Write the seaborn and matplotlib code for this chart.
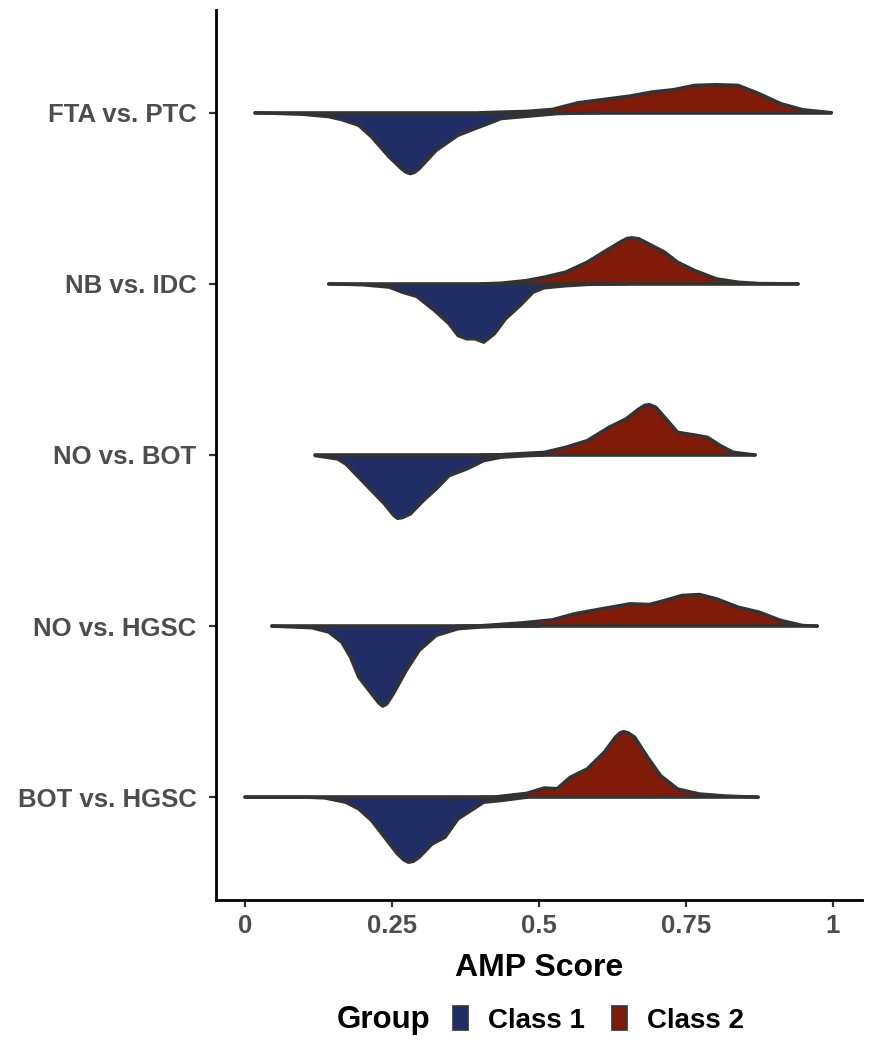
import numpy as np
import pandas as pd
import matplotlib
matplotlib.use("Agg")
import matplotlib.pyplot as plt
from matplotlib.patches import Patch
import seaborn as sns

# ---------------- data ----------------
comparisons = ["FTA vs. PTC", "NB vs. IDC", "NO vs. BOT", "NO vs. HGSC", "BOT vs. HGSC"]
groups = ["Class 1", "Class 2"]
x_ticks = [0, 0.25, 0.5, 0.75, 1]
x_tick_labels = ["0", "0.25", "0.5", "0.75", "1"]

# overall range of each comparison (baseline extent)
range_fta = [0.017, 0.998]
range_nb = [0.142, 0.941]
range_nobot = [0.119, 0.868]
range_nohgsc = [0.045, 0.974]
range_bothgsc = [0.0, 0.873]

# Class 1 density profiles (score, relative density)
c1_fta_x = [0.017, 0.098, 0.142, 0.164, 0.193, 0.215, 0.245, 0.267, 0.274, 0.281, 0.288, 0.296, 0.325, 0.362, 0.391, 0.421, 0.435, 0.479, 0.531, 0.60]
c1_fta_d = [0.0, 0.05, 0.12, 0.21, 0.38, 0.73, 1.33, 1.70, 1.79, 1.83, 1.79, 1.68, 1.13, 0.68, 0.48, 0.28, 0.18, 0.11, 0.03, 0.0]
c1_nb_x = [0.142, 0.200, 0.245, 0.267, 0.292, 0.322, 0.347, 0.362, 0.377, 0.391, 0.406, 0.424, 0.443, 0.468, 0.490, 0.509, 0.545, 0.582, 0.65]
c1_nb_d = [0.0, 0.03, 0.10, 0.25, 0.38, 0.80, 1.20, 1.55, 1.65, 1.65, 1.75, 1.50, 1.05, 0.65, 0.25, 0.12, 0.06, 0.02, 0.0]
c1_nobot_x = [0.119, 0.157, 0.171, 0.193, 0.215, 0.237, 0.252, 0.259, 0.267, 0.281, 0.303, 0.325, 0.347, 0.377, 0.406, 0.435, 0.472, 0.509]
c1_nobot_d = [0.02, 0.12, 0.27, 0.67, 1.07, 1.47, 1.80, 1.90, 1.88, 1.77, 1.37, 1.02, 0.62, 0.42, 0.17, 0.07, 0.03, 0.0]
c1_nohgsc_x = [0.045, 0.113, 0.142, 0.164, 0.179, 0.193, 0.215, 0.227, 0.234, 0.241, 0.252, 0.274, 0.296, 0.325, 0.362, 0.399, 0.435, 0.50]
c1_nohgsc_d = [0.0, 0.05, 0.18, 0.48, 0.93, 1.53, 2.03, 2.30, 2.40, 2.33, 2.03, 1.33, 0.73, 0.28, 0.08, 0.03, 0.01, 0.0]
c1_bothgsc_x = [0.0, 0.105, 0.135, 0.171, 0.193, 0.215, 0.237, 0.259, 0.270, 0.278, 0.286, 0.296, 0.318, 0.340, 0.362, 0.384, 0.406, 0.435, 0.457, 0.479]
c1_bothgsc_d = [0.0, 0.0, 0.02, 0.15, 0.35, 0.70, 1.20, 1.70, 1.88, 1.95, 1.92, 1.80, 1.40, 1.20, 0.65, 0.40, 0.15, 0.10, 0.05, 0.0]

# Class 2 density profiles
c2_fta_x = [0.40, 0.479, 0.523, 0.567, 0.611, 0.655, 0.692, 0.729, 0.765, 0.802, 0.839, 0.875, 0.912, 0.949, 0.998]
c2_fta_d = [0.0, 0.04, 0.10, 0.30, 0.40, 0.50, 0.62, 0.69, 0.82, 0.84, 0.82, 0.57, 0.27, 0.09, 0.0]
c2_nb_x = [0.40, 0.435, 0.479, 0.509, 0.545, 0.582, 0.619, 0.641, 0.650, 0.658, 0.670, 0.692, 0.714, 0.736, 0.765, 0.802, 0.839, 0.875, 0.941]
c2_nb_d = [0.0, 0.02, 0.10, 0.20, 0.35, 0.65, 1.05, 1.28, 1.36, 1.38, 1.35, 1.15, 0.95, 0.65, 0.40, 0.15, 0.05, 0.01, 0.0]
c2_nobot_x = [0.40, 0.435, 0.509, 0.545, 0.582, 0.619, 0.648, 0.670, 0.680, 0.688, 0.699, 0.714, 0.736, 0.765, 0.787, 0.809, 0.831, 0.868]
c2_nobot_d = [0.0, 0.01, 0.08, 0.23, 0.43, 0.83, 1.08, 1.38, 1.49, 1.51, 1.43, 1.13, 0.68, 0.60, 0.53, 0.28, 0.08, 0.0]
c2_nohgsc_x = [0.36, 0.399, 0.472, 0.523, 0.560, 0.597, 0.655, 0.688, 0.714, 0.743, 0.773, 0.802, 0.839, 0.875, 0.912, 0.949, 0.974]
c2_nohgsc_d = [0.0, 0.01, 0.10, 0.19, 0.37, 0.49, 0.67, 0.65, 0.77, 0.92, 0.95, 0.82, 0.57, 0.42, 0.17, 0.02, 0.0]
c2_bothgsc_x = [0.40, 0.421, 0.435, 0.479, 0.509, 0.531, 0.553, 0.582, 0.611, 0.630, 0.638, 0.644, 0.652, 0.663, 0.685, 0.707, 0.736, 0.773, 0.817, 0.873]
c2_bothgsc_d = [0.0, 0.0, 0.03, 0.12, 0.28, 0.26, 0.60, 0.85, 1.35, 1.80, 1.93, 1.97, 1.93, 1.80, 1.20, 0.65, 0.25, 0.10, 0.04, 0.0]

ranges = [range_fta, range_nb, range_nobot, range_nohgsc, range_bothgsc]
class1 = [(c1_fta_x, c1_fta_d), (c1_nb_x, c1_nb_d), (c1_nobot_x, c1_nobot_d),
          (c1_nohgsc_x, c1_nohgsc_d), (c1_bothgsc_x, c1_bothgsc_d)]
class2 = [(c2_fta_x, c2_fta_d), (c2_nb_x, c2_nb_d), (c2_nobot_x, c2_nobot_d),
          (c2_nohgsc_x, c2_nohgsc_d), (c2_bothgsc_x, c2_bothgsc_d)]

# ---------------- styling ----------------
COL1 = "#212E66"
COL2 = "#801B0A"
EDGE = "#333333"
SCALE = 0.195  # relative density -> fraction of row spacing

sns.set_theme(style="ticks")
plt.rcParams["font.family"] = ["Liberation Sans", "DejaVu Sans"]

fig = plt.figure(figsize=(8.79, 10.5), dpi=100)
ax = fig.add_axes([0.2457, 0.1429, 0.735, 0.8476])

n = len(comparisons)
rows = []
for i, name in enumerate(comparisons):
    ypos = n - i
    for g, (xs, ds), sign in ((groups[0], class1[i], -1), (groups[1], class2[i], 1)):
        for xv, dv in zip(xs, ds):
            rows.append({"comparison": name, "group": g, "score": xv,
                         "y": ypos + sign * dv * SCALE})
df = pd.DataFrame(rows)

for i, name in enumerate(comparisons):
    ypos = n - i
    for g, col in ((groups[0], COL1), (groups[1], COL2)):
        sub = df[(df.comparison == name) & (df.group == g)]
        ax.fill_between(sub["score"], ypos, sub["y"], color=col, lw=0, zorder=2)
    # baseline
    ax.plot(ranges[i], [ypos, ypos], color=EDGE, lw=2.6, solid_capstyle="round", zorder=3)

df["unit"] = df["comparison"] + "_" + df["group"]
sns.lineplot(data=df, x="score", y="y", units="unit", estimator=None, sort=False,
             color=EDGE, lw=2.4, ax=ax, zorder=4, legend=False)

ax.set_xlim(-0.05, 1.05)
ax.set_ylim(0.4, n + 0.6)
ax.set_yticks(range(n, 0, -1))
ax.set_yticklabels(comparisons)
ax.set_xticks(x_ticks)
ax.set_xticklabels(x_tick_labels)
ax.set_ylabel("")
ax.set_xlabel("AMP Score", fontsize=23, fontweight="bold", color="black", labelpad=11)

for s in ("top", "right"):
    ax.spines[s].set_visible(False)
for s in ("left", "bottom"):
    ax.spines[s].set_color("black")
    ax.spines[s].set_linewidth(2.0)
ax.tick_params(axis="both", direction="out", length=5, width=1.6, color=EDGE,
               labelsize=18.5, labelcolor="#4D4D4D")
ax.tick_params(axis="x", pad=5)
ax.tick_params(axis="y", pad=9)
for lab in ax.get_xticklabels() + ax.get_yticklabels():
    lab.set_fontweight("bold")

# legend
fig.text(0.4363, 0.0286, "Group", ha="center", va="center", fontsize=22.5,
         fontweight="bold", color="black")
handles = [Patch(facecolor=COL1, edgecolor=EDGE, lw=1.2),
           Patch(facecolor=COL2, edgecolor=EDGE, lw=1.2)]
leg = fig.legend(handles, groups, loc="center", bbox_to_anchor=(0.681, 0.0286), ncol=2,
                 frameon=False, handlelength=0.54, handleheight=0.94, handletextpad=0.72,
                 columnspacing=1.0, borderpad=0.0, labelcolor="black",
                 prop={"size": 20, "weight": "bold"})

fig.savefig("out.png", dpi=100)
